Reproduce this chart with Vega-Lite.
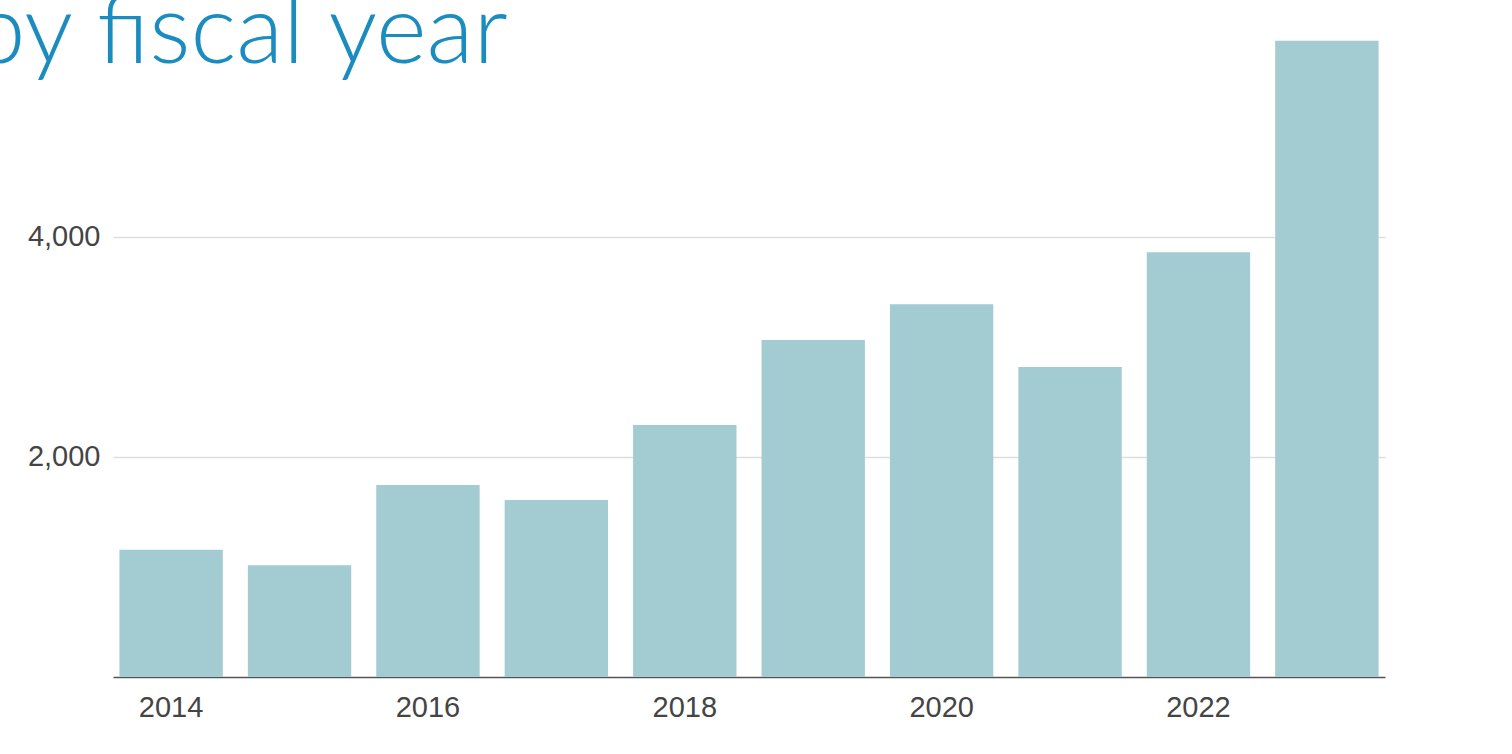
{
  "$schema": "https://vega.github.io/schema/vega-lite/v6.json",
  "autosize": {"type": "none"},
  "width": 1272,
  "height": 577,
  "padding": {"left": 113, "top": 100, "right": 127, "bottom": 77},
  "background": "#ffffff",
  "title": {
    "text": "by fiscal year",
    "anchor": "start",
    "frame": "group",
    "orient": "top",
    "baseline": "alphabetic",
    "offset": 10,
    "dy": 129,
    "dx": -141,
    "font": "Lato",
    "fontSize": 97,
    "fontWeight": 300,
    "color": "#1a8cbf"
  },
  "data": {
    "values": [
      {"year": 2014, "count": 1157},
      {"year": 2015, "count": 1015},
      {"year": 2016, "count": 1745},
      {"year": 2017, "count": 1609},
      {"year": 2018, "count": 2291},
      {"year": 2019, "count": 3064},
      {"year": 2020, "count": 3388},
      {"year": 2021, "count": 2818},
      {"year": 2022, "count": 3861},
      {"year": 2023, "count": 5785}
    ]
  },
  "mark": {"type": "bar", "color": "#a2cbd2", "clip": false},
  "encoding": {
    "x": {
      "field": "year",
      "type": "ordinal",
      "scale": {"paddingInner": 0.195, "paddingOuter": 0.05},
      "axis": {
        "title": null,
        "values": [2014, 2016, 2018, 2020, 2022],
        "labelAngle": 0,
        "ticks": false,
        "tickSize": 0,
        "labelPadding": 16,
        "labelFont": "Liberation Sans",
        "labelFontSize": 29,
        "labelColor": "#444444",
        "domainColor": "#555555",
        "domainWidth": 1.5,
        "grid": false
      }
    },
    "y": {
      "field": "count",
      "type": "quantitative",
      "scale": {"domain": [0, 5245.45], "nice": false},
      "axis": {
        "title": null,
        "values": [2000, 4000],
        "format": ",.0f",
        "ticks": false,
        "tickSize": 0,
        "domain": false,
        "labelPadding": 13,
        "labelFont": "Liberation Sans",
        "labelFontSize": 29,
        "labelColor": "#444444",
        "grid": true,
        "gridColor": "#dedede",
        "gridWidth": 1.6
      }
    }
  },
  "config": {"view": {"stroke": null}}
}
